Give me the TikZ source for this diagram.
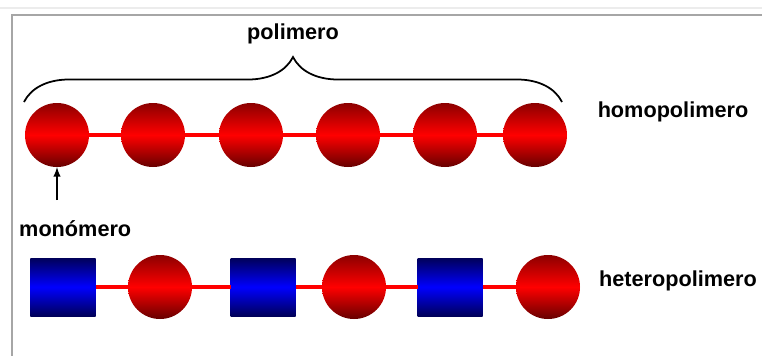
\documentclass[tikz,border=0pt]{standalone}
\usepackage{fontspec}
\setmainfont{Liberation Sans}
\usepackage{tkz-graph}
\usetikzlibrary{arrows,decorations.pathreplacing}

\tikzset{
  ball/.style  = {shape=circle, minimum size=1.92cm, inner sep=0pt,
                  top color=red!55!black, bottom color=red!40!black,
                  middle color=red},
  block/.style = {shape=rectangle, minimum width=1.95cm,
                  minimum height=1.74cm, inner sep=0pt,
                  top color=blue!35!black, bottom color=blue!35!black,
                  middle color=blue},
  tag/.style   = {font=\fontsize{18.5}{20}\selectfont\bfseries, inner sep=0pt}
}

\begin{document}
\begin{tikzpicture}[x=0.03cm, y=-0.03cm]

\useasboundingbox (0,0) rectangle (762,356);

% frame
\draw[gray!15, line width=1pt] (0,8) -- (762,8);
\draw[gray!70, line width=1.5pt] (762,15) -- (12,15) -- (12,356);

\tikzset{EdgeStyle/.style={-, red, line width=3pt}}

% level 1 : homopolimero

\tikzset{VertexStyle/.style={ball}}
\Vertex[x=57,  y=135, NoLabel]{h1}
\Vertex[x=153, y=135, NoLabel]{h2}
\Vertex[x=251, y=135, NoLabel]{h3}
\Vertex[x=348, y=135, NoLabel]{h4}
\Vertex[x=445, y=135, NoLabel]{h5}
\Vertex[x=535, y=135, NoLabel]{h6}
\Edges(h1,h2,h3,h4,h5,h6)

\node[tag] (homo) at (673,112) {homopolimero};

% brace

\coordinate (bl) at (24,102);
\coordinate (br) at (562,102);
\draw[line width=1.5pt, decorate,
      decoration={brace, amplitude=1.35cm}] (bl) -- (br);
\node[tag] (poli) at (293,34) {polimero};

% monomer arrow

\coordinate (tail) at (57,200);
\draw[line width=1.8pt, -latex] (tail) -- (h1);
\node[tag, anchor=west] (mono) at (19,229) {monómero};

% level 2 : heteropolimero

\tikzset{VertexStyle/.style={block}}
\Vertex[x=63,  y=287, NoLabel]{t1}
\Vertex[x=263, y=287, NoLabel]{t3}
\Vertex[x=450, y=287, NoLabel]{t5}

\tikzset{VertexStyle/.style={ball}}
\Vertex[x=160, y=287, NoLabel]{t2}
\Vertex[x=354, y=287, NoLabel]{t4}
\Vertex[x=548, y=287, NoLabel]{t6}
\Edges(t1,t2,t3,t4,t5,t6)

\node[tag] (hetero) at (678,281) {heteropolimero};

\end{tikzpicture}
\end{document}
